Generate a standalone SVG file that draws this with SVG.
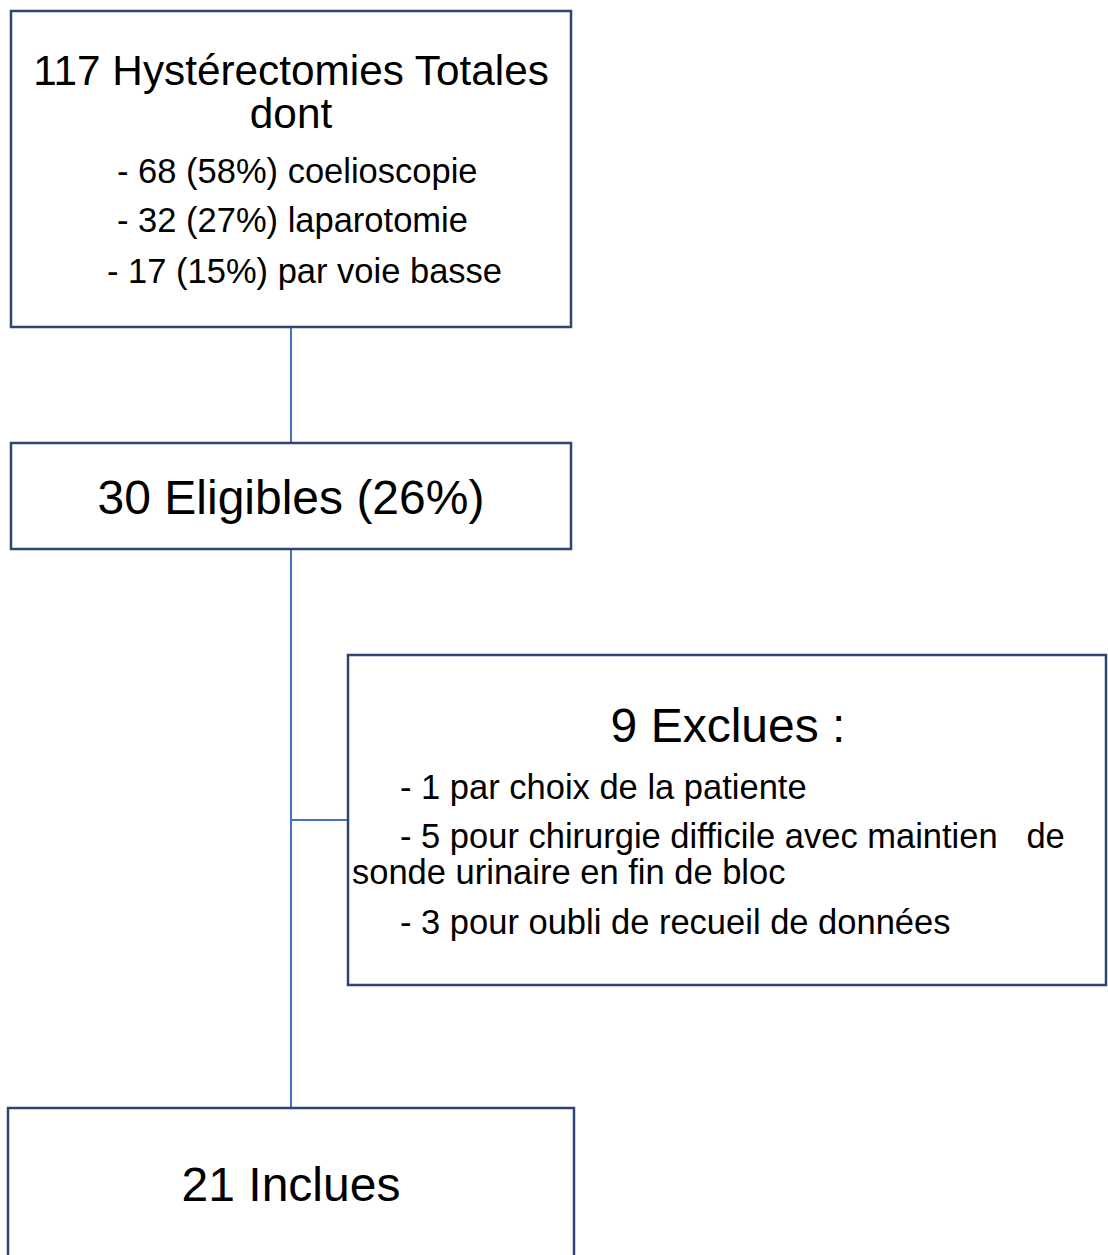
<svg xmlns="http://www.w3.org/2000/svg" width="1108" height="1255" viewBox="0 0 1108 1255">
<style>
.box{fill:#ffffff;stroke:#2f4573;stroke-width:2.5}
.conn{stroke:#4472c4;stroke-width:2;fill:none}
text{font-family:"Liberation Sans",Arial,sans-serif;fill:#000}
.big{font-size:48px}
.mid{font-size:42.3px}
.sm{font-size:34.5px}
</style>
<rect width="1108" height="1255" fill="#ffffff"/>
<g id="connectors">
<line class="conn" x1="291" y1="327" x2="291" y2="443"/>
<line class="conn" x1="291" y1="549" x2="291" y2="1108"/>
<line class="conn" x1="291" y1="820" x2="348" y2="820"/>
</g>
<g id="node-total">
<rect class="box" x="11" y="11" width="560" height="316"/>
<text class="mid" x="291" y="85" text-anchor="middle">117 Hystérectomies Totales</text>
<text class="mid" x="291" y="128" text-anchor="middle">dont</text>
<text class="sm" x="117" y="183">- 68 (58%) coelioscopie</text>
<text class="sm" x="117" y="232">- 32 (27%) laparotomie</text>
<text class="sm" x="107" y="283">- 17 (15%) par voie basse</text>
</g>
<g id="node-eligibles">
<rect class="box" x="11" y="443" width="560" height="106"/>
<text class="big" x="291" y="514" text-anchor="middle">30 Eligibles (26%)</text>
</g>
<g id="node-exclues">
<rect class="box" x="348" y="655" width="758" height="330"/>
<text class="big" x="728" y="742" text-anchor="middle">9 Exclues :</text>
<text class="sm" x="400" y="799">- 1 par choix de la patiente</text>
<text class="sm" x="400" y="848" xml:space="preserve">- 5 pour chirurgie difficile avec maintien   de</text>
<text class="sm" x="352" y="884">sonde urinaire en fin de bloc</text>
<text class="sm" x="400" y="934">- 3 pour oubli de recueil de données</text>
</g>
<g id="node-inclues">
<rect class="box" x="8" y="1108" width="566" height="160"/>
<text class="big" x="291" y="1201" text-anchor="middle">21 Inclues</text>
</g>
</svg>
